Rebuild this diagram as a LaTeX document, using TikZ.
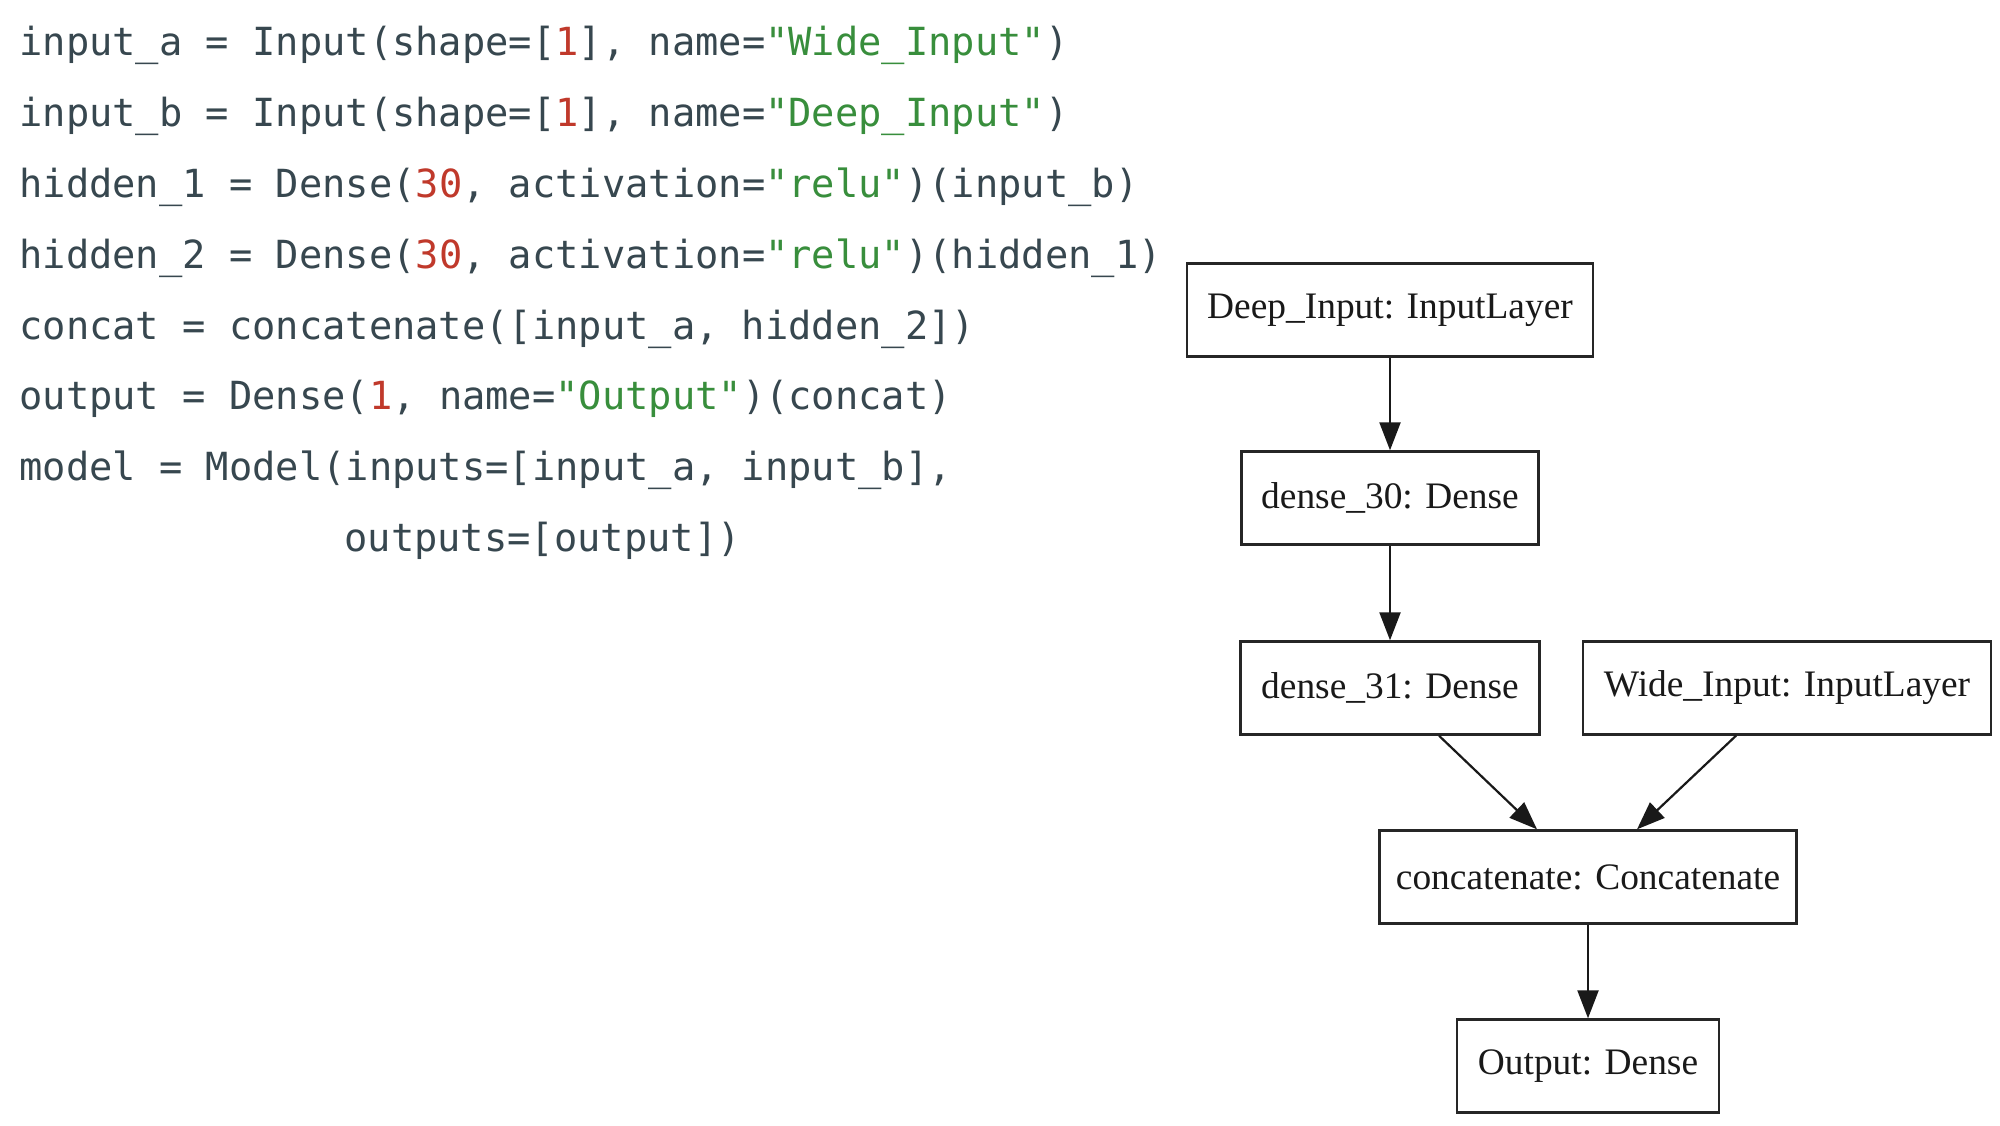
\documentclass[tikz,border=0pt]{standalone}
\usepackage{fontspec}
\setmainfont{Liberation Serif}
\setmonofont{DejaVu Sans Mono}
\usetikzlibrary{arrows.meta}
\definecolor{codefg}{HTML}{37474F}
\definecolor{codenum}{HTML}{C0392B}
\definecolor{codestr}{HTML}{388E3C}
\newcommand{\cn}[1]{\textcolor{codenum}{#1}}
\newcommand{\cs}[1]{\textcolor{codestr}{#1}}
\tikzset{
  codeline/.style={anchor=base west, inner sep=0pt, text=codefg,
    font=\fontsize{19.36}{23}\selectfont\ttfamily},
  layer/.style={draw=black!85, line width=1.2pt, rectangle, inner sep=0pt,
    minimum height=46.5pt, font=\fontsize{18.7}{22}\selectfont, text=black!90},
  flow/.style={line width=1.1pt, black!90, -{Triangle[length=14pt,width=10.5pt]}}
}
\begin{document}
\begin{tikzpicture}[x=0.5pt,y=-0.5pt]
\useasboundingbox[fill=white] (0,0) rectangle (2000,1125);
% code
\node[codeline] (c1) at (19,55) {input\_a = Input(shape=[\cn{1}], name=\cs{"Wide\_Input"})};
\node[codeline] (c2) at (19,126) {input\_b = Input(shape=[\cn{1}], name=\cs{"Deep\_Input"})};
\node[codeline] (c3) at (19,197) {hidden\_1 = Dense(\cn{30}, activation=\cs{"relu"})(input\_b)};
\node[codeline] (c4) at (19,268) {hidden\_2 = Dense(\cn{30}, activation=\cs{"relu"})(hidden\_1)};
\node[codeline] (c5) at (19,339) {concat = concatenate([input\_a, hidden\_2])};
\node[codeline] (c6) at (19,409) {output = Dense(\cn{1}, name=\cs{"Output"})(concat)};
\node[codeline] (c7) at (19,480) {model = Model(inputs=[input\_a, input\_b],};
\node[codeline] (c8) at (344,551) {outputs=[output])};
% graph
\node[layer, minimum width=203pt] (deep) at (1390,310) {Deep\_Input: InputLayer};
\node[layer, minimum width=148.5pt] (d30) at (1390,498) {dense\_30: Dense};
\node[layer, minimum width=149.5pt] (d31) at (1390,688) {dense\_31: Dense};
\node[layer, minimum width=204pt] (wide) at (1787,688) {Wide\_Input: InputLayer};
\node[layer, minimum width=208.5pt] (cat) at (1588,877) {concatenate: Concatenate};
\node[layer, minimum width=131pt] (out) at (1588,1066) {Output: Dense};
\draw[flow] (deep.south) -- (d30.north);
\draw[flow] (d30.south) -- (d31.north);
\draw[flow] ([xshift=24.5pt]d31.south) -- ([xshift=-25.5pt]cat.north);
\draw[flow] ([xshift=-25.5pt]wide.south) -- ([xshift=24.5pt]cat.north);
\draw[flow] (cat.south) -- (out.north);
\end{tikzpicture}
\end{document}
